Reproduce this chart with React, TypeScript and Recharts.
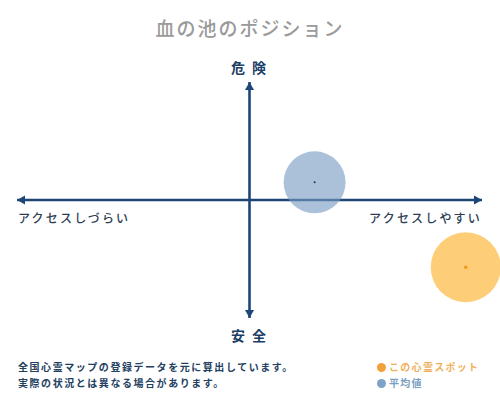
import React from "react";
import {
  ScatterChart,
  Scatter,
  XAxis,
  YAxis,
  ReferenceLine,
} from "recharts";

const title = "血の池のポジション";
const spotPoint = [{ x: 93, y: -57 }];
const averagePoint = [{ x: 28, y: 15 }];
const axisEnds = [
  { x: -100, y: 0, dir: "left" },
  { x: 100, y: 0, dir: "right" },
  { x: 0, y: 100, dir: "up" },
  { x: 0, y: -100, dir: "down" },
];
const axisLabels = [
  { x: 0, y: 100, text: "危 険", pos: "top" },
  { x: 0, y: -100, text: "安 全", pos: "bottom" },
  { x: -100, y: 0, text: "アクセスしづらい", pos: "left" },
  { x: 100, y: 0, text: "アクセスしやすい", pos: "right" },
];
const notes = [
  "全国心霊マップの登録データを元に算出しています。",
  "実際の状況とは異なる場合があります。",
];
const legendItems = [
  { name: "この心霊スポット", color: "#f2a03c", text: "#efb05e" },
  { name: "平均値", color: "#7fa3c6", text: "#7b9ec2" },
];

const NAVY = "#1d4677";
const FONT = "'Noto Sans CJK JP', 'Noto Sans', sans-serif";

function Arrow(props: any) {
  const { cx, cy, payload } = props;
  const L = 8;
  const W = 4.5;
  let pts = "";
  if (payload.dir === "right") pts = `${cx},${cy} ${cx - L},${cy - W} ${cx - L},${cy + W}`;
  if (payload.dir === "left") pts = `${cx},${cy} ${cx + L},${cy - W} ${cx + L},${cy + W}`;
  if (payload.dir === "up") pts = `${cx},${cy} ${cx - W},${cy + L} ${cx + W},${cy + L}`;
  if (payload.dir === "down") pts = `${cx},${cy} ${cx - W},${cy - L} ${cx + W},${cy - L}`;
  return <polygon points={pts} fill={NAVY} />;
}

function AxisText(props: any) {
  const { cx, cy, payload } = props;
  const big = payload.pos === "top" || payload.pos === "bottom";
  let x = cx;
  let y = cy;
  let anchor: "start" | "middle" | "end" = "middle";
  if (payload.pos === "top") y = cy - 9;
  if (payload.pos === "bottom") y = cy + 23;
  if (payload.pos === "left") {
    x = cx + 1;
    y = cy + 23;
    anchor = "start";
  }
  if (payload.pos === "right") {
    y = cy + 23;
    anchor = "end";
  }
  return (
    <text
      x={x}
      y={y}
      textAnchor={anchor}
      fontFamily={FONT}
      fontSize={big ? 14 : 12}
      fontWeight={big ? 700 : 500}
      letterSpacing={big ? 2 : 2.2}
      fill={big ? "#1b3d66" : "#2c3e55"}
    >
      {payload.text}
    </text>
  );
}

function Bubble(fill: string, r: number, dot: string, dotR: number) {
  return (props: any) => (
    <g>
      <circle cx={props.cx} cy={props.cy} r={r} fill={fill} />
      <circle cx={props.cx} cy={props.cy} r={dotR} fill={dot} />
    </g>
  );
}

export default function App() {
  return (
    <div
      style={{
        position: "absolute",
        left: 0,
        top: 0,
        width: 500,
        height: 400,
        background: "#fff",
        fontFamily: FONT,
        overflow: "hidden",
      }}
    >
      <div
        style={{
          position: "absolute",
          top: 14,
          width: 500,
          textAlign: "center",
          fontSize: 19,
          letterSpacing: 2,
          color: "#9a9a9a",
          fontWeight: 500,
        }}
      >
        {title}
      </div>
      <ScatterChart
        width={500}
        height={400}
        margin={{ top: 82, right: 18, bottom: 82, left: 17 }}
      >
        <XAxis type="number" dataKey="x" domain={[-100, 100]} hide />
        <YAxis type="number" dataKey="y" domain={[-100, 100]} hide />
        <ReferenceLine
          segment={[
            { x: -100, y: 0 },
            { x: 100, y: 0 },
          ]}
          stroke={NAVY}
          strokeWidth={2.6}
        />
        <ReferenceLine
          segment={[
            { x: 0, y: -100 },
            { x: 0, y: 100 },
          ]}
          stroke={NAVY}
          strokeWidth={2.6}
        />
        <Scatter
          data={averagePoint}
          isAnimationActive={false}
          shape={Bubble("rgba(120,155,196,0.62)", 31, "#1d3550", 1)}
        />
        <Scatter
          data={spotPoint}
          isAnimationActive={false}
          shape={Bubble("rgba(253,196,96,0.85)", 35, "#f39a1e", 1.8)}
        />
        <Scatter data={axisEnds} isAnimationActive={false} shape={Arrow} />
        <Scatter data={axisLabels} isAnimationActive={false} shape={AxisText} />
      </ScatterChart>
      <div
        style={{
          position: "absolute",
          left: 18,
          top: 359,
          fontSize: 10,
          lineHeight: "16px",
          fontWeight: 700,
          letterSpacing: 1.55,
          color: "#23405f",
        }}
      >
        {notes.map((n) => (
          <div key={n}>{n}</div>
        ))}
      </div>
      <div
        style={{
          position: "absolute",
          left: 377,
          top: 359,
          fontSize: 10,
          lineHeight: "16px",
          fontWeight: 700,
          letterSpacing: 1.3,
        }}
      >
        {legendItems.map((it) => (
          <div key={it.name} style={{ display: "flex", alignItems: "center", color: it.text }}>
            <span
              style={{
                display: "inline-block",
                width: 9,
                height: 9,
                borderRadius: "50%",
                background: it.color,
                marginRight: 3,
              }}
            />
            {it.name}
          </div>
        ))}
      </div>
    </div>
  );
}
